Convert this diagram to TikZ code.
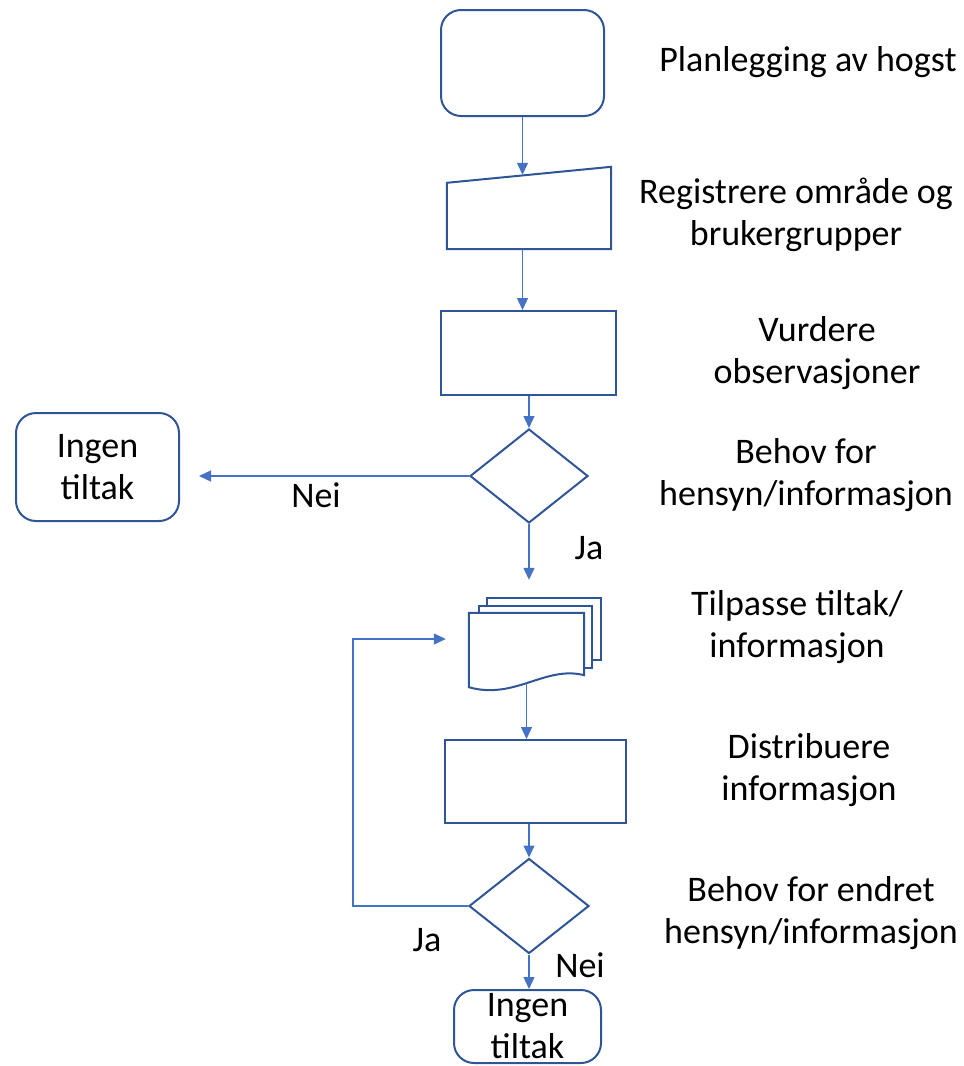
\documentclass[tikz,border=0pt]{standalone}
\usepackage{fontspec}
\setmainfont{Carlito}
\usetikzlibrary{shapes.geometric}
\usetikzlibrary{arrows.meta}
\definecolor{shapeblue}{HTML}{2F5597}
\definecolor{linkblue}{HTML}{4472C4}
\tikzset{
    terminal/.style={draw=shapeblue, line width=2pt, rounded corners=20pt, inner sep=0pt, align=center},
    process/.style={draw=shapeblue, line width=2pt, inner sep=0pt},
    decision/.style={diamond, draw=shapeblue, line width=2pt, inner sep=0pt},
    frame/.style={inner sep=0pt},
    sheet/.style={draw=shapeblue, line width=2pt, fill=white},
    flow/.style={draw=linkblue, line width=1.3pt, -{Triangle[length=12pt,width=11pt]}},
    caption/.style={align=center}
}

\begin{document}
\begin{tikzpicture}[x=1pt, y=-1pt, every node/.style={font=\fontsize{36}{42}\selectfont}]
    \useasboundingbox (0,0) rectangle (964,1066);

    % shapes of the chart
    \node[terminal, minimum width=163pt, minimum height=106pt] (plan) at (522.5,63) {};
    \node[frame, minimum width=164pt, minimum height=74pt] (reg) at (529,212) {};
    \draw[sheet] ([yshift=-8pt]reg.north west) -- ([yshift=8pt]reg.north east)
        -- (reg.south east) -- (reg.south west) -- cycle;
    \node[process, minimum width=175pt, minimum height=84pt] (assess) at (528.5,353) {};
    \node[decision, minimum width=118pt, minimum height=94pt] (chk1) at (529,476) {};
    \node[terminal, minimum width=163pt, minimum height=108pt] (no1) at (97.5,467) {Ingen\\tiltak};

    \node[frame, minimum width=115pt, minimum height=52pt] (adapt) at (526.5,639) {};
    \draw[sheet] ([shift={(18pt,15pt)}]adapt.north west) rectangle ([shift={(17pt,5pt)}]adapt.south east);
    \draw[sheet] ([shift={(10pt,7pt)}]adapt.north west) rectangle ([shift={(8pt,-3pt)}]adapt.south east);
    \draw[sheet] (adapt.north west) -- (adapt.north east) -- ([yshift=-10pt]adapt.south east)
        .. controls ([shift={(-39pt,0pt)}]adapt.south east) and ([shift={(46pt,-35pt)}]adapt.south west)
        .. ([yshift=-22pt]adapt.south west) -- cycle;

    \node[process, minimum width=181pt, minimum height=83pt] (spread) at (535.5,781.5) {};
    \node[decision, minimum width=120pt, minimum height=95pt] (chk2) at (529,906) {};
    \node[terminal, minimum width=147pt, minimum height=73pt] (no2) at (527.5,1026.5) {Ingen\\tiltak};

    % texts beside the chart
    \node[caption] (tplan) at (808,62) {Planlegging av hogst};
    \node[caption] (treg) at (796,215) {Registrere område og\\brukergrupper};
    \node[caption] (tassess) at (817,353) {Vurdere\\observasjoner};
    \node[caption] (tchk1) at (806,475) {Behov for\\hensyn/informasjon};
    \node[caption] (tadapt) at (797,627) {Tilpasse tiltak/\\informasjon};
    \node[caption] (tspread) at (809,770) {Distribuere\\informasjon};
    \node[caption] (tchk2) at (811,913) {Behov for endret\\hensyn/informasjon};

    \node (nei1) at (316,495) {Nei};
    \node (ja1) at (589,548) {Ja};
    \node (ja2) at (427,940) {Ja};
    \node (nei2) at (580,965) {Nei};

    % connectors
    \draw[flow] (plan.south) -- (plan.south |- reg.north);
    \draw[flow] (plan.south |- reg.south) -- (plan.south |- assess.north);
    \draw[flow] (chk1.north |- assess.south) -- (chk1.north);
    \draw[flow, shorten >=19pt] (chk1.west) -- (chk1.west -| no1.east);
    \draw[flow, shorten >=33pt] (chk1.south) -- (chk1.south |- adapt.north);
    \draw[flow] ([yshift=-18pt]adapt.south) -- (adapt.south |- spread.north);
    \draw[flow] (chk2.north |- spread.south) -- (chk2.north);
    \draw[flow, shorten >=23pt] (chk2.west) -- ++(-115pt,0pt) |- (adapt.west);
    \draw[flow] (chk2.south) -- (chk2.south |- no2.north);
\end{tikzpicture}
\end{document}
